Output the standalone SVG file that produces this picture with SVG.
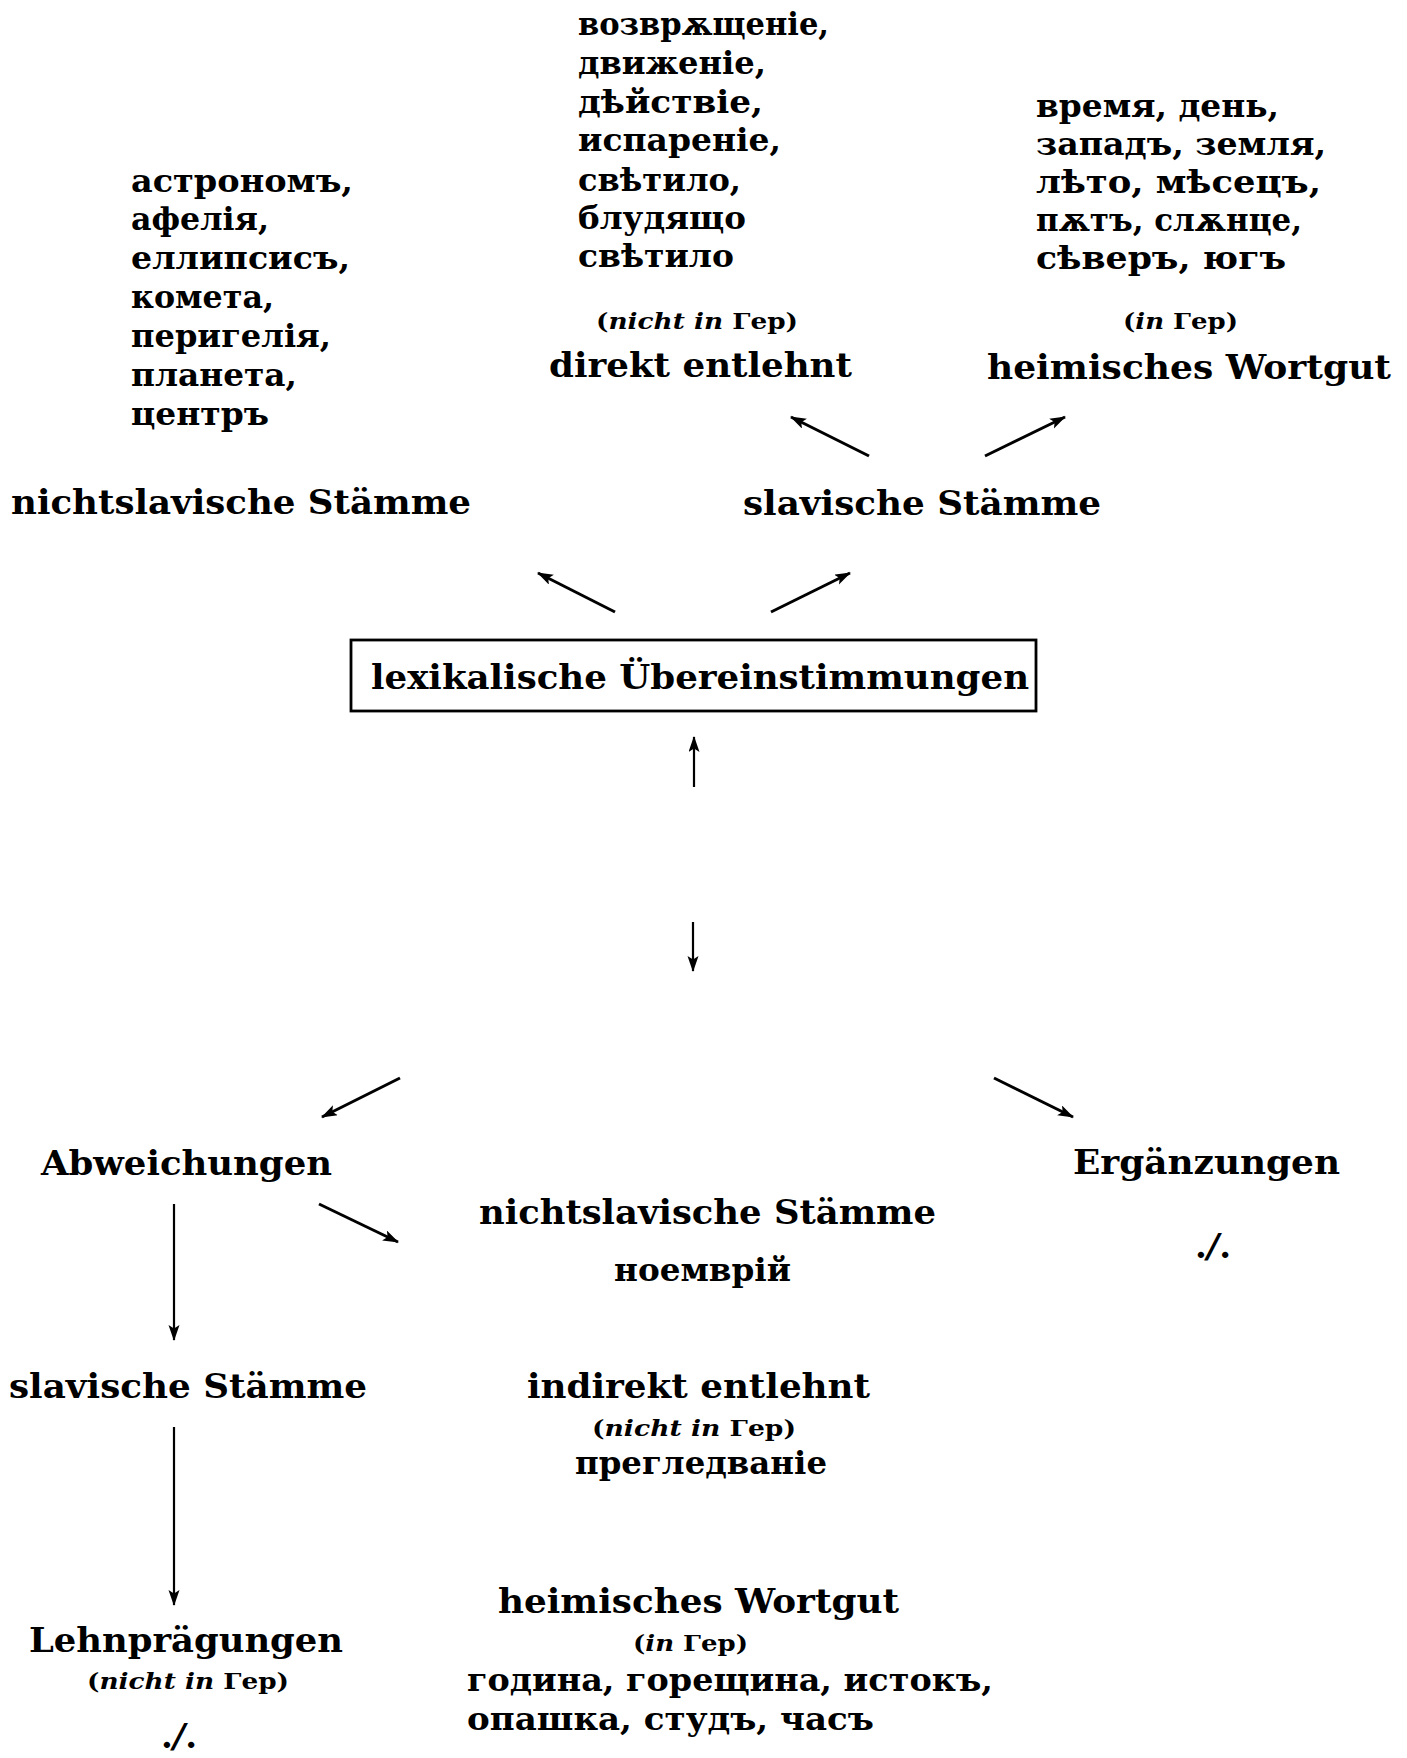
<svg xmlns="http://www.w3.org/2000/svg" width="1407" height="1758" viewBox="0 0 1407 1758">
<style>
text{font-family:"DejaVu Serif","Liberation Serif",serif;font-weight:bold;fill:#000;}
.cy{font-size:31px;}
.de{font-size:34px;}
.sm{font-size:23px;font-weight:bold;}
.it{font-style:italic;}
.nd{font-size:34px;font-weight:bold;}
.conn line{stroke:#000;stroke-width:3;}
.conn line.v{stroke-width:2.2;}
</style>
<defs>
<marker id="ah" markerUnits="userSpaceOnUse" markerWidth="18" markerHeight="12" refX="15" refY="5.5" orient="auto">
<path d="M0,0 L16,5.5 L0,11 L3.5,5.5 Z" fill="#000"/>
</marker>
</defs>
<rect width="1407" height="1758" fill="#fff"/>

<g id="list-middle">
<text class="cy" x="578" y="35" textLength="251" lengthAdjust="spacingAndGlyphs">возврѫщеніе,</text>
<text class="cy" x="578" y="74" textLength="188" lengthAdjust="spacingAndGlyphs">движеніе,</text>
<text class="cy" x="578" y="113" textLength="185" lengthAdjust="spacingAndGlyphs">дѣйствіе,</text>
<text class="cy" x="578" y="151" textLength="203" lengthAdjust="spacingAndGlyphs">испареніе,</text>
<text class="cy" x="578" y="191" textLength="163" lengthAdjust="spacingAndGlyphs">свѣтило,</text>
<text class="cy" x="578" y="229" textLength="168" lengthAdjust="spacingAndGlyphs">блудящо</text>
<text class="cy" x="578" y="267" textLength="156" lengthAdjust="spacingAndGlyphs">свѣтило</text>
</g>

<g id="list-right">
<text class="cy" x="1036" y="117" textLength="243" lengthAdjust="spacingAndGlyphs">время, день,</text>
<text class="cy" x="1036" y="155" textLength="290" lengthAdjust="spacingAndGlyphs">западъ, земля,</text>
<text class="cy" x="1036" y="193" textLength="285" lengthAdjust="spacingAndGlyphs">лѣто, мѣсецъ,</text>
<text class="cy" x="1036" y="231" textLength="266" lengthAdjust="spacingAndGlyphs">пѫтъ, слѫнце,</text>
<text class="cy" x="1036" y="269" textLength="250" lengthAdjust="spacingAndGlyphs">сѣверъ, югъ</text>
</g>

<g id="list-left">
<text class="cy" x="131" y="192" textLength="222" lengthAdjust="spacingAndGlyphs">астрономъ,</text>
<text class="cy" x="131" y="230" textLength="138" lengthAdjust="spacingAndGlyphs">афелія,</text>
<text class="cy" x="131" y="269" textLength="219" lengthAdjust="spacingAndGlyphs">еллипсисъ,</text>
<text class="cy" x="131" y="308" textLength="143" lengthAdjust="spacingAndGlyphs">комета,</text>
<text class="cy" x="131" y="347" textLength="200" lengthAdjust="spacingAndGlyphs">перигелія,</text>
<text class="cy" x="131" y="386" textLength="166" lengthAdjust="spacingAndGlyphs">планета,</text>
<text class="cy" x="131" y="425" textLength="138" lengthAdjust="spacingAndGlyphs">центръ</text>
</g>

<g id="direkt-entlehnt">
<text class="sm" x="596" y="329" textLength="202" lengthAdjust="spacingAndGlyphs">(<tspan class="it">nicht in</tspan> Гер)</text>
<text class="de" x="549" y="377" textLength="303" lengthAdjust="spacingAndGlyphs">direkt entlehnt</text>
</g>

<g id="heimisches-top">
<text class="sm" x="1123" y="329" textLength="115" lengthAdjust="spacingAndGlyphs">(<tspan class="it">in</tspan> Гер)</text>
<text class="de" x="987" y="379" textLength="404" lengthAdjust="spacingAndGlyphs">heimisches Wortgut</text>
</g>

<g id="nichtslavisch-top">
<text class="de" x="11" y="514" textLength="460" lengthAdjust="spacingAndGlyphs">nichtslavische Stämme</text>
</g>

<g id="slavisch-top">
<text class="de" x="743" y="515" textLength="358" lengthAdjust="spacingAndGlyphs">slavische Stämme</text>
</g>

<g id="lexikalisch">
<rect x="351" y="640" width="685" height="71" fill="none" stroke="#000" stroke-width="2.8"/>
<text class="de" x="371" y="689" textLength="658" lengthAdjust="spacingAndGlyphs">lexikalische Übereinstimmungen</text>
</g>

<g id="abweichungen">
<text class="de" x="41" y="1175" textLength="291" lengthAdjust="spacingAndGlyphs">Abweichungen</text>
</g>

<g id="ergaenzungen">
<text class="de" x="1073" y="1174" textLength="267" lengthAdjust="spacingAndGlyphs">Ergänzungen</text>
<text class="nd" x="1213" y="1258" text-anchor="middle">.<tspan class="it">/</tspan>.</text>
</g>

<g id="nichtslavisch-bottom">
<text class="de" x="479" y="1224" textLength="457" lengthAdjust="spacingAndGlyphs">nichtslavische Stämme</text>
<text class="cy" x="614" y="1281" textLength="177" lengthAdjust="spacingAndGlyphs">ноемврій</text>
</g>

<g id="slavisch-bottom">
<text class="de" x="9" y="1398" textLength="358" lengthAdjust="spacingAndGlyphs">slavische Stämme</text>
</g>

<g id="indirekt-entlehnt">
<text class="de" x="527" y="1398" textLength="343" lengthAdjust="spacingAndGlyphs">indirekt entlehnt</text>
<text class="sm" x="592" y="1436" textLength="204" lengthAdjust="spacingAndGlyphs">(<tspan class="it">nicht in</tspan> Гер)</text>
<text class="cy" x="575" y="1474" textLength="252" lengthAdjust="spacingAndGlyphs">прегледваніе</text>
</g>

<g id="heimisches-bottom">
<text class="de" x="498" y="1613" textLength="401" lengthAdjust="spacingAndGlyphs">heimisches Wortgut</text>
<text class="sm" x="633" y="1651" textLength="115" lengthAdjust="spacingAndGlyphs">(<tspan class="it">in</tspan> Гер)</text>
<text class="cy" x="467" y="1691" textLength="526" lengthAdjust="spacingAndGlyphs">година, горещина, истокъ,</text>
<text class="cy" x="467" y="1730" textLength="407" lengthAdjust="spacingAndGlyphs">опашка, студъ, часъ</text>
</g>

<g id="lehnpraegungen">
<text class="de" x="29" y="1652" textLength="314" lengthAdjust="spacingAndGlyphs">Lehnprägungen</text>
<text class="sm" x="87" y="1689" textLength="202" lengthAdjust="spacingAndGlyphs">(<tspan class="it">nicht in</tspan> Гер)</text>
<text class="nd" x="179" y="1748" text-anchor="middle">.<tspan class="it">/</tspan>.</text>
</g>

<g id="connectors" class="conn">
<line x1="869" y1="456" x2="791" y2="417" marker-end="url(#ah)"/>
<line x1="985" y1="456" x2="1065" y2="417" marker-end="url(#ah)"/>
<line x1="615" y1="612" x2="538" y2="573" marker-end="url(#ah)"/>
<line x1="771" y1="612" x2="850" y2="573" marker-end="url(#ah)"/>
<line class="v" x1="694" y1="787" x2="694" y2="737" marker-end="url(#ah)"/>
<line class="v" x1="693" y1="922" x2="693" y2="971" marker-end="url(#ah)"/>
<line x1="400" y1="1078" x2="322" y2="1117" marker-end="url(#ah)"/>
<line x1="994" y1="1078" x2="1073" y2="1117" marker-end="url(#ah)"/>
<line x1="319" y1="1204" x2="398" y2="1242" marker-end="url(#ah)"/>
<line class="v" x1="174" y1="1204" x2="174" y2="1340" marker-end="url(#ah)"/>
<line class="v" x1="174" y1="1427" x2="174" y2="1605" marker-end="url(#ah)"/>
</g>
</svg>
